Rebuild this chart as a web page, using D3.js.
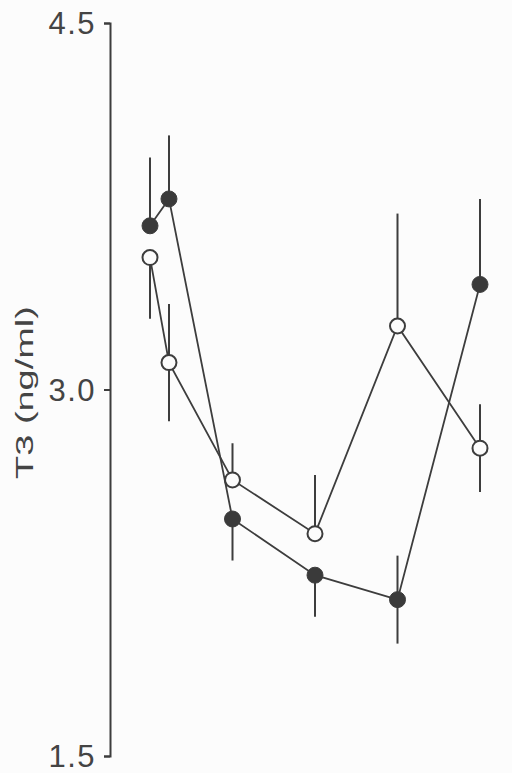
<!DOCTYPE html>
<html>
<head>
<meta charset="utf-8">
<script src="https://cdn.jsdelivr.net/npm/d3@7"></script>
<style>
  html, body { margin: 0; padding: 0; background: #fcfcfc; }
  svg { display: block; }
</style>
</head>
<body>
<svg id="chart" width="512" height="773"></svg>
<script>
// ---- data ----
const times = [0, 0.23, 1, 2, 3, 4];
const filledMean = [3.67, 3.78, 2.47, 2.24, 2.14, 3.43];
const filledErr  = [0.28, 0.26, 0.17, 0.17, 0.18, 0.35];
const filledDir  = ["up", "up", "down", "down", "both", "up"];
const openMean   = [3.54, 3.11, 2.63, 2.41, 3.26, 2.76];
const openErr    = [0.25, 0.24, 0.15, 0.24, 0.46, 0.18];
const openDir    = ["down", "both", "up", "up", "up", "both"];
const yTicks = [1.5, 3.0, 4.5];
const yLabel = "T3 (ng/ml)";

// ---- layout ----
const svg = d3.select("#chart");
const axisX = 110;
const ink = "#3d3d3d";

const x = d3.scaleLinear().domain([0, 4]).range([150, 480]);
const y = d3.scaleLinear().domain([1.5, 4.5]).range([756, 23]);

// axis
const axis = d3.axisLeft(y)
  .tickValues(yTicks)
  .tickFormat(d3.format(".1f"))
  .tickSize(6)
  .tickSizeOuter(6)
  .tickPadding(8);

const gAxis = svg.append("g")
  .attr("transform", `translate(${axisX},0)`)
  .call(axis);
gAxis.select(".domain").attr("stroke", ink).attr("stroke-width", 2);
gAxis.selectAll(".tick line").attr("stroke", ink).attr("stroke-width", 2);
gAxis.selectAll(".tick text")
  .attr("fill", "#444")
  .style("font-family", "'Liberation Sans', Arial, sans-serif")
  .style("font-size", "31px")
  .style("letter-spacing", "1.5px")
  .attr("dy", "0.34em");

// y label (wide, extended lettering)
svg.append("text")
  .attr("transform", `translate(33,${y(3.0) + 3}) rotate(-90) scale(1.65,1)`)
  .attr("text-anchor", "middle")
  .attr("fill", "#444")
  .style("font-family", "'Liberation Sans', Arial, sans-serif")
  .style("font-size", "23px")
  .text(yLabel);

function series(means, errs, dirs, filled) {
  const pts = times.map((t, i) => ({t, m: means[i], e: errs[i], d: dirs[i]}));
  const g = svg.append("g");
  // connecting line
  g.append("path")
    .datum(pts)
    .attr("fill", "none")
    .attr("stroke", ink)
    .attr("stroke-width", 1.8)
    .attr("d", d3.line().x(p => x(p.t)).y(p => y(p.m)));
  // error bars
  g.selectAll("line.err")
    .data(pts)
    .join("line")
    .attr("class", "err")
    .attr("x1", p => x(p.t))
    .attr("x2", p => x(p.t))
    .attr("y1", p => y(p.d === "down" ? p.m : p.m + p.e))
    .attr("y2", p => y(p.d === "up" ? p.m : p.m - p.e))
    .attr("stroke", ink)
    .attr("stroke-width", 2);
  // markers
  g.selectAll("circle")
    .data(pts)
    .join("circle")
    .attr("cx", p => x(p.t))
    .attr("cy", p => y(p.m))
    .attr("r", filled ? 8 : 7.5)
    .attr("fill", filled ? "#3a3a3a" : "#fcfcfc")
    .attr("stroke", ink)
    .attr("stroke-width", filled ? 1 : 2);
}

series(openMean, openErr, openDir, false);
series(filledMean, filledErr, filledDir, true);
</script>
</body>
</html>
